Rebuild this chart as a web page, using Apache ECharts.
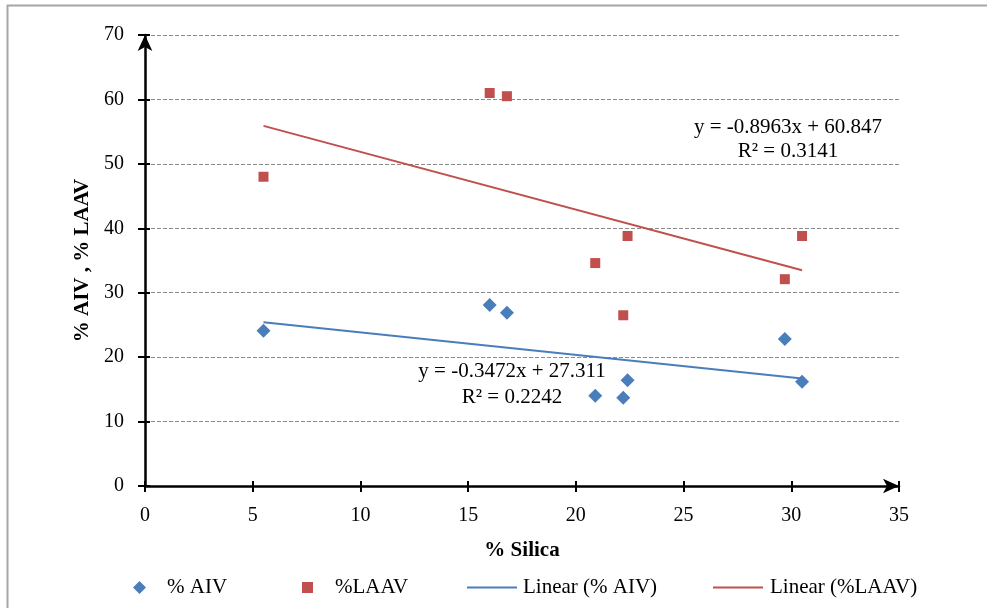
<!DOCTYPE html>
<html>
<head>
<meta charset="utf-8">
<script src="https://cdn.jsdelivr.net/npm/echarts@6/dist/echarts.min.js"></script>
<style>
html, body { margin: 0; padding: 0; background: #fff; }
#chart { width: 987px; height: 608px; }
</style>
</head>
<body>
<div id="chart"></div>
<script>
// data
var silica = [5.5, 16.0, 16.8, 20.9, 22.2, 22.4, 29.7, 30.5];
var aiv = [24.1, 28.1, 26.9, 14.0, 13.7, 16.4, 22.8, 16.2];
var laav = [48.0, 61.0, 60.5, 34.6, 26.5, 38.8, 32.1, 38.8];
// trendline ends (x from 5.5 to 30.5)
var trendX = [5.5, 30.5];
var aivTrend = [25.4, 16.7];
var laavTrend = [55.9, 33.5];
var aivEq = ['y = -0.3472x + 27.311', 'R² = 0.2242'];
var laavEq = ['y = -0.8963x + 60.847', 'R² = 0.3141'];

var blue = '#4a7ebb';
var red = '#c0504d';
var font = '"Liberation Serif", "DejaVu Serif", serif';

function pairs(xs, ys) {
    var out = [];
    for (var i = 0; i < xs.length; i++) out.push([xs[i], ys[i]]);
    return out;
}

function legendBox(name, icon, left, w, h, pad) {
    return {
        left: left, top: 572,
        icon: icon, itemWidth: w, itemHeight: h,
        textStyle: { fontFamily: font, fontSize: 21, color: '#000', padding: [0, 0, 0, pad] },
        data: [name]
    };
}

var chartDom = document.getElementById('chart');
var myChart = echarts.init(chartDom);

var option = {
    backgroundColor: '#fff',
    animation: false,
    textStyle: { fontFamily: font },
    grid: { left: 145, right: 88, top: 35, bottom: 122 },
    graphic: [
        {
            type: 'rect', left: 5, top: 3, z: -10,
            shape: { width: 1000, height: 700 },
            style: { fill: 'none', stroke: '#a6a6a6', lineWidth: 2 }
        },
        {
            type: 'text', x: 512, y: 361,
            style: { text: aivEq[0], textAlign: 'center', font: '21px ' + font, fill: '#000' }
        },
        {
            type: 'text', x: 512, y: 387,
            style: { text: aivEq[1], textAlign: 'center', font: '21px ' + font, fill: '#000' }
        },
        {
            type: 'text', x: 788, y: 117,
            style: { text: laavEq[0], textAlign: 'center', font: '21px ' + font, fill: '#000' }
        },
        {
            type: 'text', x: 788, y: 141,
            style: { text: laavEq[1], textAlign: 'center', font: '21px ' + font, fill: '#000' }
        }
    ],
    legend: [
        legendBox('% AIV', 'diamond', 128, 13, 13, 16),
        legendBox('%LAAV', 'rect', 297, 11, 11, 17),
        legendBox('Linear (% AIV)', 'rect', 462, 50, 2, 1),
        legendBox('Linear (%LAAV)', 'rect', 708, 50, 2, 2)
    ],
    xAxis: [
        {
            type: 'value', min: 0, max: 35, interval: 5,
            name: '% Silica', nameLocation: 'middle', nameGap: 54,
            nameTextStyle: { fontFamily: font, fontSize: 21, fontWeight: 'bold', color: '#000' },
            axisLine: { onZero: false, symbol: ['none', 'arrow'], symbolSize: [11, 16], lineStyle: { color: '#000', width: 2.5 } },
            axisTick: { show: true, length: 6, lineStyle: { color: '#000', width: 2 } },
            axisLabel: { margin: 20, fontFamily: font, fontSize: 20, color: '#000' },
            splitLine: { show: false }
        },
        {
            type: 'value', min: 0, max: 35, interval: 5, position: 'bottom',
            axisLine: { show: false },
            axisTick: { show: true, inside: true, length: 5, lineStyle: { color: '#000', width: 2 } },
            axisLabel: { show: false },
            splitLine: { show: false }
        }
    ],
    yAxis: [
        {
            type: 'value', min: 0, max: 70, interval: 10,
            name: '% AIV , % LAAV', nameLocation: 'middle', nameGap: 50,
            nameTextStyle: { fontFamily: font, fontSize: 21, fontWeight: 'bold', color: '#000' },
            axisLine: { show: true, onZero: false, symbol: ['none', 'arrow'], symbolSize: [11, 16], lineStyle: { color: '#000', width: 2.5 } },
            axisTick: { show: true, length: 7, lineStyle: { color: '#000', width: 2 } },
            axisLabel: { margin: 21, fontFamily: font, fontSize: 20, color: '#000' },
            splitLine: { show: true, lineStyle: { color: '#8c8c8c', type: [4, 2], width: 1 } }
        },
        {
            type: 'value', min: 0, max: 70, interval: 10, position: 'left',
            axisLine: { show: false },
            axisTick: { show: true, inside: true, length: 5, lineStyle: { color: '#000', width: 2 } },
            axisLabel: { show: false },
            splitLine: { show: false }
        }
    ],
    series: [
        {
            name: '% AIV', type: 'scatter', symbol: 'diamond', symbolSize: 14,
            itemStyle: { color: blue, opacity: 1 }, z: 5,
            data: pairs(silica, aiv)
        },
        {
            name: '%LAAV', type: 'scatter', symbol: 'rect', symbolSize: 10,
            itemStyle: { color: red, opacity: 1 }, z: 5,
            data: pairs(silica, laav)
        },
        {
            name: 'Linear (% AIV)', type: 'line', symbol: 'none',
            lineStyle: { color: blue, width: 2 }, itemStyle: { color: blue },
            data: pairs(trendX, aivTrend)
        },
        {
            name: 'Linear (%LAAV)', type: 'line', symbol: 'none',
            lineStyle: { color: red, width: 2 }, itemStyle: { color: red },
            data: pairs(trendX, laavTrend)
        }
    ]
};

if (option && typeof option === 'object') {
    myChart.setOption(option, true);
}
</script>
</body>
</html>
